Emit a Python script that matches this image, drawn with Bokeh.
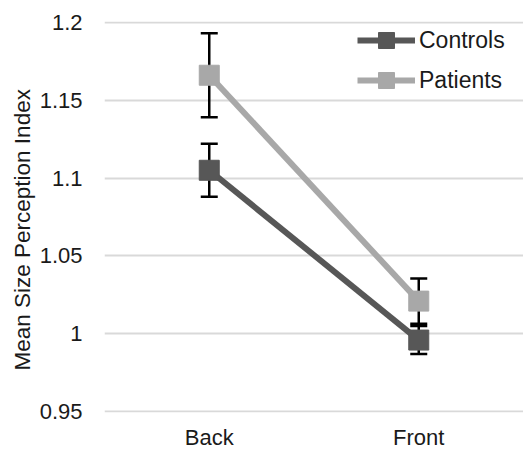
from bokeh.plotting import figure
from bokeh.models import FactorRange, Range1d, Legend, LegendItem, FixedTicker, Whisker, ColumnDataSource, Title
from bokeh.embed import file_html
from bokeh.resources import INLINE

conditions = ["Back", "Front"]
controls_mean = [1.105, 0.996]
controls_err = [0.017, 0.009]
patients_mean = [1.166, 1.021]
patients_err = [0.027, 0.0145]
y_ticks = [0.95, 1.0, 1.05, 1.1, 1.15, 1.2]
y_tick_labels = {0.95: "0.95", 1.0: "1", 1.05: "1.05", 1.1: "1.1", 1.15: "1.15", 1.2: "1.2"}
y_title = "Mean Size Perception Index"

FONT = "Liberation Sans"
dark = "#575757"
light = "#a8a8a8"

p = figure(x_range=FactorRange(*conditions), y_range=Range1d(0.9495, 1.2005),
           width=523, height=452, output_backend="svg", toolbar_location=None,
           min_border_top=21, min_border_right=0, min_border_left=104, min_border_bottom=10)
p.outline_line_color = None
p.background_fill_color = "white"
p.border_fill_color = "white"

# grid
p.xgrid.grid_line_color = None
p.ygrid.grid_line_color = "#d9d9d9"
p.ygrid.grid_line_width = 2
p.ygrid.ticker = FixedTicker(ticks=y_ticks)

# axes
p.yaxis.ticker = FixedTicker(ticks=y_ticks)
p.yaxis.major_label_overrides = y_tick_labels
p.yaxis.axis_line_color = None
p.yaxis.major_tick_line_color = None
p.yaxis.minor_tick_line_color = None
p.yaxis.major_tick_out = 0
p.yaxis.major_tick_in = 0
p.yaxis.minor_tick_out = 0
p.yaxis.major_label_standoff = 22
p.yaxis.major_label_text_font = FONT
p.yaxis.major_label_text_font_size = "22px"
p.yaxis.major_label_text_color = "#1a1a1a"

yt = Title(text=y_title, align="left", offset=42, standoff=4,
           text_font=FONT, text_font_size="22.5px", text_font_style="normal",
           text_color="#1a1a1a")
p.add_layout(yt, "left")

p.xaxis.axis_line_color = None
p.xaxis.major_tick_line_color = None
p.xaxis.minor_tick_line_color = None
p.xaxis.major_tick_out = 0
p.xaxis.major_tick_in = 0
p.xaxis.major_label_standoff = 12
p.xaxis.major_label_text_font = FONT
p.xaxis.major_label_text_font_size = "22px"
p.xaxis.major_label_text_color = "#1a1a1a"

src_c = ColumnDataSource(dict(x=conditions, y=controls_mean,
                              lo=[m - e for m, e in zip(controls_mean, controls_err)],
                              hi=[m + e for m, e in zip(controls_mean, controls_err)]))
src_p = ColumnDataSource(dict(x=conditions, y=patients_mean,
                              lo=[m - e for m, e in zip(patients_mean, patients_err)],
                              hi=[m + e for m, e in zip(patients_mean, patients_err)]))

for src in (src_c, src_p):
    w = Whisker(base="x", lower="lo", upper="hi", source=src, line_color="black", line_width=2.5)
    w.upper_head.size = 17
    w.lower_head.size = 17
    w.upper_head.line_color = "black"
    w.lower_head.line_color = "black"
    w.upper_head.line_width = 2.5
    w.lower_head.line_width = 2.5
    w.level = "underlay"
    p.add_layout(w)

lc = p.line("x", "y", source=src_c, line_color=dark, line_width=6)
mc = p.scatter("x", "y", source=src_c, marker="square", size=20, fill_color=dark, line_color=dark)
lp = p.line("x", "y", source=src_p, line_color=light, line_width=6)
mp = p.scatter("x", "y", source=src_p, marker="square", size=20, fill_color=light, line_color=light)

legend = Legend(items=[LegendItem(label="Controls", renderers=[lc, mc]),
                       LegendItem(label="Patients", renderers=[lp, mp])],
                location=(253, 312))
legend.border_line_color = None
legend.background_fill_alpha = 0
legend.label_text_font = FONT
legend.label_text_font_size = "23px"
legend.label_text_color = "#1a1a1a"
legend.glyph_width = 58
legend.glyph_height = 40
legend.label_height = 40
legend.spacing = 0
legend.label_standoff = 4
legend.padding = 0
legend.margin = 0
p.add_layout(legend)

open("out.html", "w").write(file_html(p, INLINE))
